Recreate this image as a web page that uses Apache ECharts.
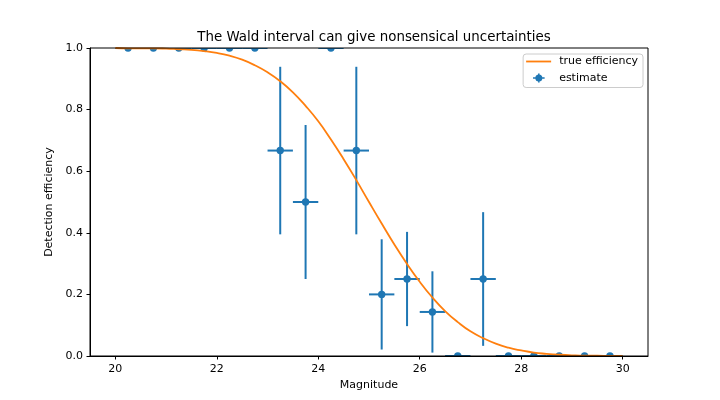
<!DOCTYPE html>
<html>
<head>
<meta charset="utf-8">
<script src="https://cdn.jsdelivr.net/npm/echarts@6/dist/echarts.min.js"></script>
<style>html,body{margin:0;padding:0;background:#fff}#c{width:720px;height:400px}</style>
</head>
<body>
<div id="c"></div>
<script>
// ---- data ----
const binCenters = [20.25, 20.75, 21.25, 21.75, 22.25, 22.75, 23.25, 23.75, 24.25, 24.75,
                    25.25, 25.75, 26.25, 26.75, 27.25, 27.75, 28.25, 28.75, 29.25, 29.75];
const binHalfWidth = [0.25, 0.25, 0.25, 0.25, 0.25, 0.25, 0.25, 0.25, 0.25, 0.25,
                      0.25, 0.25, 0.25, 0.25, 0.25, 0.25, 0.25, 0.25, 0.25, 0.25];
const estimate = [1, 1, 1, 1, 1, 1, 0.667, 0.5, 1, 0.667,
                  0.2, 0.25, 0.143, 0, 0.25, 0, 0, 0, 0, 0];
const errLow   = [1, 1, 1, 1, 1, 1, 0.395, 0.25, 1, 0.395,
                  0.021, 0.097, 0.011, 0, 0.033, 0, 0, 0, 0, 0];
const errHigh  = [1, 1, 1, 1, 1, 1, 0.939, 0.75, 1, 0.939,
                  0.379, 0.403, 0.275, 0, 0.467, 0, 0, 0, 0, 0];

const curveX = [20.00, 20.25, 20.50, 20.75, 21.00, 21.25, 21.50, 21.75, 22.00, 22.25,
                22.50, 22.75, 23.00, 23.25, 23.50, 23.75, 24.00, 24.25, 24.50, 24.75,
                25.00, 25.25, 25.50, 25.75, 26.00, 26.25, 26.50, 26.75, 27.00, 27.25,
                27.50, 27.75, 28.00, 28.25, 28.50, 28.75, 29.00, 29.25, 29.50, 29.75, 30.00];
const curveY = [1.000, 0.999, 0.999, 0.999, 0.998, 0.996, 0.994, 0.990, 0.984, 0.975,
                0.962, 0.944, 0.921, 0.892, 0.856, 0.812, 0.762, 0.703, 0.639, 0.571,
                0.500, 0.430, 0.362, 0.299, 0.241, 0.190, 0.146, 0.110, 0.080, 0.058,
                0.040, 0.027, 0.018, 0.011, 0.007, 0.004, 0.002, 0.001, 0.001, 0.000, 0.000];

const xTicks = [20, 22, 24, 26, 28, 30];
const yTicks = [0, 0.2, 0.4, 0.6, 0.8, 1.0];

const titleText = 'The Wald interval can give nonsensical uncertainties';
const xName = 'Magnitude';
const yName = 'Detection efficiency';
const lineName = 'true efficiency';
const estName = 'estimate';

// ---- chart ----
const FONT = 'DejaVu Sans';
const BLUE = '#1f77b4';
const ORANGE = '#ff7f0e';
const FS = 11;

const chart = echarts.init(document.getElementById('c'), null, {renderer: 'canvas'});

const estData = binCenters.map((x, i) => [x, estimate[i], errLow[i], errHigh[i], binHalfWidth[i]]);
const curveData = curveX.map((x, i) => [x, curveY[i]]);

function renderItem(params, api) {
  const x = api.value(0), y = api.value(1), lo = api.value(2), hi = api.value(3), xe = api.value(4);
  const c = api.coord([x, y]);
  const l = api.coord([x - xe, y]);
  const r = api.coord([x + xe, y]);
  const t = api.coord([x, hi]);
  const b = api.coord([x, lo]);
  const st = {stroke: BLUE, lineWidth: 2};
  return {
    type: 'group',
    children: [
      {type: 'line', shape: {x1: l[0], y1: l[1], x2: r[0], y2: r[1]}, style: st},
      {type: 'line', shape: {x1: b[0], y1: b[1], x2: t[0], y2: t[1]}, style: st},
      {type: 'circle', shape: {cx: c[0], cy: c[1], r: 3.7}, style: {fill: BLUE}}
    ]
  };
}

const estIcon = 'path://M0 0h0.01v0.01h-0.01Z M24.99 11.99h0.01v0.01h-0.01Z ' +
  'M6.9 5.2H18.5V6.8H6.9Z M11.9 1.6H13.5V10.4H11.9Z ' +
  'M9.2 6A3.5 3.5 0 1 1 16.2 6A3.5 3.5 0 1 1 9.2 6Z';
const lineIcon = 'path://M0 0H25V1.8H0Z';

chart.setOption({
  animation: false,
  backgroundColor: '#fff',
  textStyle: {fontFamily: FONT, color: '#000'},
  title: {
    text: titleText,
    left: 369,
    textAlign: 'center',
    top: 26,
    textStyle: {fontFamily: FONT, fontSize: 13.4, fontWeight: 'normal', color: '#000'}
  },
  grid: {
    left: 90, right: 72, top: 48, bottom: 44, z: 5,
    show: true, borderColor: '#000', borderWidth: 1, backgroundColor: 'transparent',
    containLabel: false
  },
  legend: {
    orient: 'vertical',
    right: 77, top: 54,
    padding: [1.5, 5, 3.5, 3],
    itemGap: 4.5,
    itemWidth: 25, itemHeight: 12,
    borderColor: '#cccccc', borderWidth: 1, borderRadius: 3,
    backgroundColor: 'rgba(255,255,255,0.8)',
    textStyle: {fontFamily: FONT, fontSize: FS, lineHeight: 12, color: '#000', padding: [0, 0, 0, 3]},
    data: [
      {name: lineName, icon: lineIcon, itemStyle: {color: ORANGE}},
      {name: estName, icon: estIcon, itemStyle: {color: BLUE}}
    ]
  },
  xAxis: {
    type: 'value', min: 19.5, max: 30.5, z: 5,
    name: xName, nameLocation: 'middle', nameGap: 20,
    nameTextStyle: {fontFamily: FONT, fontSize: FS, color: '#000'},
    axisLine: {show: true, onZero: false, lineStyle: {color: '#000', width: 1}},
    axisTick: {show: true, inside: false, length: 3.5, lineStyle: {color: '#000'}, customValues: xTicks},
    axisLabel: {show: true, margin: 7.5, fontFamily: FONT, fontSize: FS, color: '#000', customValues: xTicks,
                formatter: v => String(v)},
    splitLine: {show: false}
  },
  yAxis: {
    type: 'value', min: 0, max: 1, interval: 0.2, z: 5,
    name: yName, nameLocation: 'middle', nameGap: 31, nameRotate: 90,
    nameTextStyle: {fontFamily: FONT, fontSize: FS, color: '#000'},
    axisLine: {show: true, onZero: false, lineStyle: {color: '#000', width: 1}},
    axisTick: {show: true, inside: false, length: 3.5, lineStyle: {color: '#000'}, customValues: yTicks},
    axisLabel: {show: true, margin: 7, fontFamily: FONT, fontSize: FS, color: '#000', customValues: yTicks,
                formatter: v => Number(v).toFixed(1)},
    splitLine: {show: false}
  },
  series: [
    {
      name: estName,
      type: 'custom',
      renderItem: renderItem,
      data: estData,
      clip: true,
      itemStyle: {color: BLUE},
      encode: {x: 0, y: 1},
      z: 2
    },
    {
      name: lineName,
      type: 'line',
      data: curveData,
      smooth: true,
      showSymbol: false,
      symbol: 'none',
      clip: true,
      lineStyle: {color: ORANGE, width: 1.8},
      itemStyle: {color: ORANGE},
      z: 3
    }
  ]
});
</script>
</body>
</html>
